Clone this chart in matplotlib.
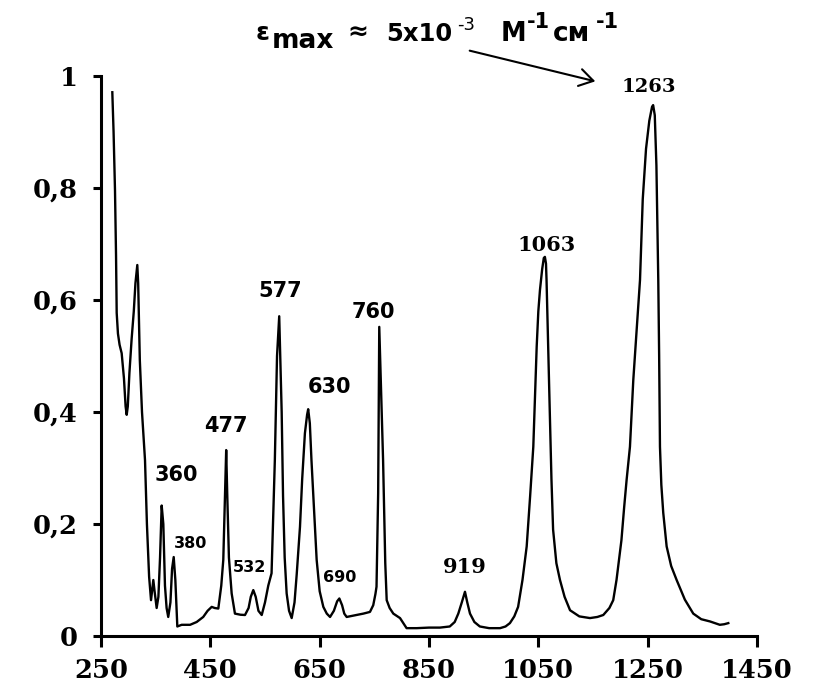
import matplotlib
matplotlib.use("Agg")
import matplotlib.pyplot as plt

# спектр поглощения: длина волны (нм) и оптическая плотность
wavelength = [270.7, 273, 275.6, 277.5, 278.7, 281, 284, 287.8, 292, 295, 297, 299,
              302, 306, 310, 313, 316.4, 318, 321, 325, 330.5, 334, 338, 341.5, 344,
              345.7, 348, 351.8, 355, 358, 361, 364, 367, 370, 373, 377, 380, 383,
              386, 389.6, 397.6, 413, 425, 437, 445, 452.5, 458, 464.6, 470, 473.7,
              477, 479, 481, 484, 489, 495, 505, 513.4, 520, 524, 528.6, 533, 538,
              544, 550, 556, 562, 568, 572, 576, 580.5, 583, 586, 589.6, 594, 598.8,
              604, 608, 614, 618, 623, 627, 629, 632, 635, 640, 644.5, 650, 656.7,
              663, 669, 676, 682, 686, 691, 695, 699.4, 717.7, 730, 742, 748, 752,
              754, 757, 759, 762, 766, 770, 772.6, 778, 784.7, 797, 809, 827.5, 850,
              870, 888, 897, 903.6, 910, 915.8, 920, 925, 933, 943, 960, 980, 990,
              998, 1006, 1013, 1021, 1028.7, 1035, 1040.8, 1044, 1047, 1050, 1053,
              1057, 1060, 1062, 1064, 1065, 1068, 1071, 1074, 1077, 1083, 1089.6,
              1098, 1108, 1125, 1144.5, 1158, 1168.8, 1180, 1187, 1193, 1202, 1207,
              1211.5, 1217.6, 1223.7, 1230, 1236, 1241, 1247, 1253, 1258, 1260, 1263,
              1266, 1269.4, 1271, 1272.5, 1275, 1278.5, 1284.7, 1293, 1303, 1318,
              1333.4, 1348, 1364, 1382, 1390, 1397.5]
absorb = [0.971, 0.90, 0.796, 0.68, 0.577, 0.54, 0.52, 0.505, 0.46, 0.41, 0.395, 0.41,
          0.47, 0.53, 0.58, 0.63, 0.6625, 0.63, 0.493, 0.40, 0.314, 0.20, 0.106, 0.064,
          0.085, 0.10, 0.08, 0.05, 0.07, 0.14, 0.233, 0.20, 0.09, 0.05, 0.034, 0.06,
          0.12, 0.141, 0.10, 0.017, 0.02, 0.02, 0.025, 0.034, 0.045, 0.052, 0.05,
          0.049, 0.09, 0.136, 0.26, 0.332, 0.25, 0.14, 0.076, 0.04, 0.038, 0.0375,
          0.05, 0.07, 0.082, 0.07, 0.045, 0.0375, 0.06, 0.09, 0.112, 0.314, 0.50,
          0.571, 0.40, 0.25, 0.14, 0.076, 0.045, 0.032, 0.06, 0.11, 0.195, 0.28,
          0.362, 0.395, 0.405, 0.38, 0.314, 0.22, 0.136, 0.08, 0.052, 0.04, 0.034,
          0.045, 0.062, 0.067, 0.055, 0.04, 0.034, 0.0375, 0.04, 0.043, 0.055, 0.075,
          0.088, 0.255, 0.552, 0.45, 0.314, 0.13, 0.064, 0.05, 0.04, 0.032, 0.014,
          0.014, 0.015, 0.015, 0.017, 0.025, 0.04, 0.06, 0.079, 0.06, 0.04, 0.025,
          0.017, 0.014, 0.014, 0.017, 0.023, 0.035, 0.052, 0.10, 0.16, 0.25, 0.338,
          0.43, 0.517, 0.58, 0.618, 0.655, 0.675, 0.677, 0.665, 0.636, 0.52, 0.398,
          0.28, 0.19, 0.13, 0.10, 0.07, 0.046, 0.035, 0.032, 0.034, 0.0375, 0.05,
          0.064, 0.10, 0.171, 0.23, 0.279, 0.338, 0.457, 0.55, 0.636, 0.78, 0.87,
          0.92, 0.945, 0.948, 0.93, 0.84, 0.636, 0.50, 0.338, 0.27, 0.22, 0.16,
          0.125, 0.10, 0.065, 0.04, 0.03, 0.026, 0.02, 0.021, 0.023]

# подписи пиков
peak_names = ["360", "380", "477", "532", "577", "630", "690", "760", "919", "1063", "1263"]
peak_x = [388.5, 414.6, 478.6, 522.5, 577.4, 668.9, 686.3, 748.4, 915.8, 1065.3, 1252.4]
peak_y = [0.277, 0.157, 0.364, 0.114, 0.605, 0.434, 0.0964, 0.568, 0.1125, 0.6875, 0.972]

x_ticks = [250, 450, 650, 850, 1050, 1250, 1450]
y_ticks = [0, 0.2, 0.4, 0.6, 0.8, 1]
y_labels = ["0", "0,2", "0,4", "0,6", "0,8", "1"]

fig = plt.figure(figsize=(8.2, 6.9), dpi=100)
ax = fig.add_axes([101 / 820, 1 - 636 / 690, 656 / 820, 560 / 690])

ax.plot(wavelength, absorb, color="black", lw=1.7)

ax.set_xlim(250, 1450)
ax.set_ylim(0, 1)
ax.set_xticks(x_ticks)
ax.set_yticks(y_ticks)
ax.set_yticklabels(y_labels)
for lab in ax.get_xticklabels() + ax.get_yticklabels():
    lab.set_family("DejaVu Serif")
    lab.set_fontweight("bold")
    lab.set_fontsize(18.5)

ax.spines["top"].set_visible(False)
ax.spines["right"].set_visible(False)
ax.spines["left"].set_linewidth(2.2)
ax.spines["bottom"].set_linewidth(2.2)
ax.tick_params(axis="x", direction="out", length=8, width=2.2, pad=8)
ax.tick_params(axis="y", direction="out", length=6, width=2.2, pad=11)

serif_peaks = ["919", "1063", "1263"]
small_peaks = ["380", "532", "690"]
for name, px, py in zip(peak_names, peak_x, peak_y):
    if name in serif_peaks:
        fam = "DejaVu Serif"
        fs = 14 if name == "1263" else 15
    else:
        fam = "DejaVu Sans"
        fs = 11.5 if name in small_peaks else 15
    ax.text(px, py, name, ha="center", va="baseline", family=fam,
            fontweight="bold", fontsize=fs)

# заголовок: кусками, чтобы индексы были крупные
title_parts = [
    ("ε", 256, 40, 18, "bold"),
    ("max", 272, 48, 19, "bold"),
    ("≈", 347, 40, 18, "bold"),
    ("5x10", 386, 41, 17.5, "bold"),
    ("-3", 457, 30, 13, "normal"),
    ("М", 501, 41, 18.5, "bold"),
    ("-1", 527, 28, 15, "bold"),
    ("см", 553, 41, 19, "bold"),
    ("-1", 596, 28, 15, "bold"),
]
for s, px, py, fs, fw in title_parts:
    fig.text(px / 820, 1 - py / 690, s, ha="left", va="baseline",
             family="DejaVu Sans", fontsize=fs, fontweight=fw)

ax.annotate("", xy=(598 / 820, 1 - 82 / 690), xytext=(467 / 820, 1 - 50 / 690),
            xycoords="figure fraction", textcoords="figure fraction",
            arrowprops=dict(arrowstyle="->,head_length=0.45,head_width=0.28",
                            lw=1.5, color="black", mutation_scale=22))

fig.savefig("out.png", dpi=100)
